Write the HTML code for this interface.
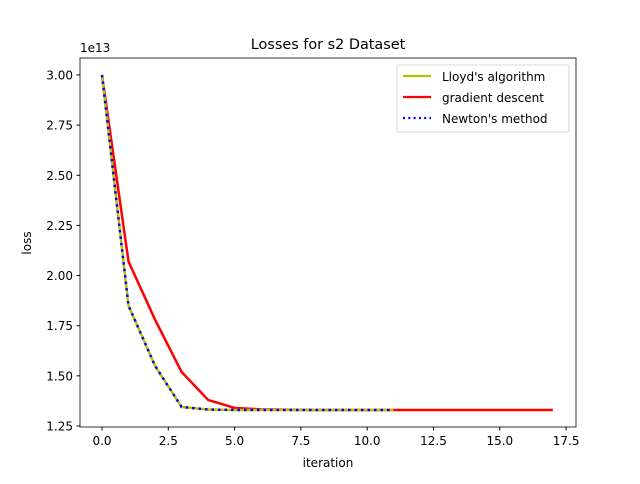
<!DOCTYPE html>
<html><head><meta charset="utf-8"><style>
body{margin:0;background:#fff;font-family:"DejaVu Sans","Liberation Sans",sans-serif;}
svg text{font-family:"DejaVu Sans","Liberation Sans",sans-serif;fill:#000;}
</style></head><body>
<svg id="chart" width="640" height="480">
<rect width="640" height="480" fill="#fff"/>
<g id="marks"></g>
<rect x="80" y="58" width="496" height="369" fill="none" stroke="#000" stroke-width="0.8"/>
<g id="axes"></g>
<text x="328" y="49" font-size="14.4" text-anchor="middle">Losses for s2 Dataset</text>
<text x="328" y="467" font-size="12" text-anchor="middle">iteration</text>
<text x="31" y="243" font-size="12" text-anchor="middle" transform="rotate(-90 31 243)">loss</text>
<text x="80" y="52" font-size="12">1e13</text>
<g>
<rect x="397" y="65" width="172" height="67" rx="2" fill="#fff" stroke="#ccc" stroke-width="0.8"/>
<line x1="403" y1="76" x2="431" y2="76" stroke="#bfbf00" stroke-width="2.2"/>
<text x="442" y="81" font-size="12">Lloyd's algorithm</text>
<line x1="403" y1="97" x2="431" y2="97" stroke="#ff0000" stroke-width="2.2"/>
<text x="442" y="102" font-size="12">gradient descent</text>
<line x1="403" y1="118" x2="431" y2="118" stroke="#0000ff" stroke-width="2.2" stroke-dasharray="2,3.3"/>
<text x="442" y="123" font-size="12">Newton's method</text>
</g>
</svg>
<script>
const lloydLoss=[3.0,1.85,1.55,1.345,1.332,1.33,1.33,1.33,1.33,1.33,1.33,1.33];
const gradLoss=[3.0,2.07,1.78,1.52,1.38,1.34,1.333,1.331,1.33,1.33,1.33,1.33,1.33,1.33,1.33,1.33,1.33,1.33];
const newtonLoss=[3.0,1.85,1.55,1.345,1.332,1.33,1.33,1.33,1.33,1.33,1.33,1.33];
const xTicks=[0,2.5,5,7.5,10,12.5,15,17.5];
const yTicks=[1.25,1.5,1.75,2.0,2.25,2.5,2.75,3.0];
const NS="http://www.w3.org/2000/svg";
const xS=v=>102+v*26.52;
const yS=v=>426-(v-1.25)*200.6;
function line(data,color,dash,name){
  const p=document.createElementNS(NS,'polyline');
  p.setAttribute('points',data.map((v,i)=>xS(i)+','+yS(v)).join(' '));
  p.setAttribute('fill','none');p.setAttribute('stroke',color);p.setAttribute('stroke-width','2.5');
  if(dash)p.setAttribute('stroke-dasharray',dash);
  
  
  document.getElementById('marks').appendChild(p);
}
line(gradLoss,'#ff0000',null,'gradient-descent-line');
line(lloydLoss,'#bfbf00',null,'lloyd-line');
line(newtonLoss,'#0000ff','2.5,4','newton-line');
const ax=document.getElementById('axes');
xTicks.forEach(t=>{
  const l=document.createElementNS(NS,'line');
  l.setAttribute('x1',xS(t));l.setAttribute('x2',xS(t));l.setAttribute('y1',427);l.setAttribute('y2',430.5);l.setAttribute('stroke','#000');
  
  
  ax.appendChild(l);
  const tx=document.createElementNS(NS,'text');
  tx.setAttribute('x',xS(t));tx.setAttribute('y',445);tx.setAttribute('font-size','12');tx.setAttribute('text-anchor','middle');
  tx.textContent=t.toFixed(1);
  
  
  ax.appendChild(tx);
});
yTicks.forEach(t=>{
  const l=document.createElementNS(NS,'line');
  l.setAttribute('x1',76.5);l.setAttribute('x2',80);l.setAttribute('y1',yS(t));l.setAttribute('y2',yS(t));l.setAttribute('stroke','#000');
  
  
  ax.appendChild(l);
  const tx=document.createElementNS(NS,'text');
  tx.setAttribute('x',73);tx.setAttribute('y',yS(t)+4.5);tx.setAttribute('font-size','12');tx.setAttribute('text-anchor','end');
  tx.textContent=t.toFixed(2);
  
  
  ax.appendChild(tx);
});
</script>
</body></html>
